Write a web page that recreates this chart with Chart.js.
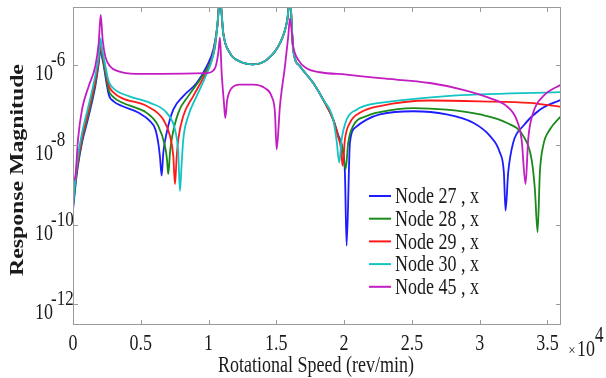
<!DOCTYPE html>
<html>
<head>
<meta charset="utf-8">
<script src="https://cdn.jsdelivr.net/npm/chart.js@4.4.1/dist/chart.umd.min.js"></script>
<style>
  html, body { margin: 0; padding: 0; background: #fff; }
  canvas { display: block; }
</style>
</head>
<body>
<canvas id="myChart" width="606" height="378"></canvas>
<script>
// rotational speed (rev/min) and log10 of response magnitude
const node27Speed = [0, 295, 664, 1158, 1645, 1895, 2030, 2120, 2235, 2633, 3000, 3614, 4845, 5679, 6070, 6291, 6416, 6542, 6660, 6910, 7397, 8135, 9123, 9860, 10347, 10642, 10841, 11085, 11579, 12316, 13297, 14285, 15266, 15805, 16004, 16247, 16741, 17722, 18459, 19197, 19566, 19890, 20060, 20185, 20429, 20798, 21660, 22641, 25097, 27560, 29522, 30754, 31491, 31786, 31911, 32104, 32472, 33210, 34441, 36000];
const node27Mag = [-9.62, -8.69, -7.94, -7.27, -6.52, -5.95, -5.55, -5.75, -5.94, -6.73, -6.9, -7.02, -7.19, -7.4, -7.6, -7.95, -8.3, -8.77, -8.2, -7.69, -7.11, -6.77, -6.44, -6.02, -5.61, -5.03, -4.3, -5.19, -5.69, -5.9, -5.97, -5.86, -5.44, -4.86, -4.3, -5.61, -6.02, -6.44, -6.86, -7.36, -7.75, -8.1, -8.7, -10.53, -7.94, -7.57, -7.36, -7.23, -7.15, -7.23, -7.44, -7.77, -8.19, -8.69, -9.65, -8.69, -7.94, -7.52, -7.11, -6.86];

const node28Speed = [0, 295, 664, 1158, 1645, 1895, 2030, 2120, 2235, 2633, 3000, 3614, 4845, 5435, 6291, 6785, 6930, 7028, 7154, 7279, 7766, 8503, 9366, 10104, 10473, 10642, 10841, 11085, 11579, 12316, 13297, 14285, 15266, 15805, 16004, 16247, 16741, 17722, 18459, 19197, 19566, 19890, 20112, 20303, 20672, 21660, 22641, 25097, 27560, 30016, 31985, 33210, 33829, 34073, 34272, 34441, 34685, 35179, 36000];
const node28Mag = [-9.52, -8.62, -7.88, -7.2, -6.45, -5.9, -5.45, -5.68, -5.88, -6.62, -6.8, -6.93, -7.09, -7.19, -7.52, -8.02, -8.35, -8.73, -8.2, -7.86, -7.19, -6.77, -6.36, -5.94, -5.55, -5.03, -4.3, -5.19, -5.69, -5.9, -5.97, -5.86, -5.44, -4.86, -4.3, -5.61, -6.02, -6.44, -6.86, -7.36, -7.78, -8.1, -8.61, -7.94, -7.52, -7.27, -7.17, -7.07, -7.11, -7.23, -7.44, -7.77, -8.36, -9.11, -10.19, -8.69, -8.02, -7.61, -7.27];

const node29Speed = [0, 295, 664, 1158, 1645, 1895, 2030, 2120, 2235, 2633, 3000, 3614, 5435, 6660, 7154, 7397, 7523, 7648, 7766, 8135, 8872, 9610, 10229, 10642, 10841, 11085, 11579, 12316, 13297, 14285, 15266, 15805, 16004, 16247, 16741, 17722, 18459, 19197, 19566, 19750, 19890, 20060, 20429, 21166, 22641, 26329, 30016, 33704, 36000];
const node29Mag = [-9.43, -8.55, -7.82, -7.12, -6.38, -5.85, -5.4, -5.6, -5.8, -6.5, -6.68, -6.82, -7.02, -7.36, -7.77, -8.27, -8.98, -8.3, -7.86, -7.27, -6.77, -6.31, -5.86, -5.03, -4.3, -5.19, -5.69, -5.9, -5.97, -5.86, -5.44, -4.86, -4.3, -5.61, -6.02, -6.44, -6.86, -7.36, -7.8, -8.05, -8.52, -7.86, -7.44, -7.19, -7.02, -6.88, -6.9, -6.94, -7.04];

const node30Speed = [0, 295, 664, 1158, 1645, 1895, 2030, 2120, 2235, 2633, 3000, 4108, 5679, 6910, 7523, 7766, 7891, 8010, 8135, 8503, 9123, 9735, 10347, 10642, 10841, 11085, 11579, 12316, 13297, 14285, 15266, 15805, 16004, 16247, 16741, 17722, 18459, 19197, 19450, 19640, 19817, 20185, 20923, 21904, 22641, 27560, 36000];
const node30Mag = [-9.5, -8.45, -7.7, -7.0, -6.25, -5.75, -5.32, -5.55, -5.75, -6.4, -6.58, -6.77, -6.94, -7.19, -7.61, -8.19, -9.15, -8.5, -7.86, -7.27, -6.77, -6.31, -5.73, -5.03, -4.3, -5.19, -5.69, -5.9, -5.97, -5.86, -5.44, -4.86, -4.3, -5.61, -6.02, -6.44, -6.86, -7.36, -7.9, -8.44, -7.86, -7.36, -7.11, -6.98, -6.94, -6.77, -6.67];

const node45Speed = [0, 170, 369, 664, 1158, 1645, 1895, 2043, 2190, 2382, 2729, 3370, 4595, 6500, 9860, 10473, 10716, 10841, 10967, 11136, 11232, 11380, 11704, 12316, 13297, 14160, 14654, 14898, 15023, 15266, 15635, 15879, 16004, 16247, 16616, 17235, 18216, 20185, 22641, 26329, 28785, 30754, 31985, 32723, 33092, 33387, 33579, 33947, 34685, 36000];
const node45Mag = [-8.9, -8.8, -7.86, -7.11, -6.52, -6.02, -5.44, -4.73, -5.36, -5.77, -6.02, -6.15, -6.21, -6.21, -6.19, -6.07, -5.69, -5.3, -6.19, -6.94, -7.32, -6.86, -6.57, -6.48, -6.48, -6.57, -6.78, -7.18, -8.11, -7.02, -6.02, -5.27, -4.82, -5.52, -5.86, -6.07, -6.17, -6.23, -6.32, -6.44, -6.61, -6.82, -7.02, -7.36, -7.86, -8.98, -7.86, -7.19, -6.77, -6.48];

const seriesNames = ["Node 27 , x", "Node 28 , x", "Node 29 , x", "Node 30 , x", "Node 45 , x"];
const seriesColors = ["#1c1cff", "#1a8a1a", "#ff1a1a", "#14c4c4", "#c21cc2"];

const xTicks = [0, 5000, 10000, 15000, 20000, 25000, 30000, 35000];
const xTickLabels = ["0", "0.5", "1", "1.5", "2", "2.5", "3", "3.5"];
const yTickExp = [-6, -8, -10, -12];

const xMin = 0, xMax = 36000;
const yMinExp = -12.48, yMaxExp = -4.53;

const speeds = [node27Speed, node28Speed, node29Speed, node30Speed, node45Speed];
const mags = [node27Mag, node28Mag, node29Mag, node30Mag, node45Mag];

const serif = '"Liberation Serif", "Times New Roman", serif';

// text with a vertical stretch, the picture is a bit taller than normal type
function txt(ctx, s, x, y, size, align, sy) {
  ctx.save();
  ctx.translate(x, y);
  ctx.scale(1, sy);
  ctx.font = size + "px " + serif;
  ctx.textAlign = align;
  ctx.textBaseline = "alphabetic";
  ctx.fillStyle = "#1a1a1a";
  ctx.fillText(s, 0, 0);
  ctx.restore();
}

const matlabAxes = {
  id: "matlabAxes",
  beforeDraw(chart) {
    const ctx = chart.ctx;
    ctx.save();
    ctx.fillStyle = "#fff";
    ctx.fillRect(0, 0, chart.width, chart.height);
    ctx.restore();
  },
  afterDraw(chart) {
    const ctx = chart.ctx;
    const a = chart.chartArea;
    const xs = chart.scales.x;
    const ys = chart.scales.y;

    // box + inward ticks
    ctx.save();
    ctx.strokeStyle = "#9a9a9a";
    ctx.lineWidth = 1;
    ctx.strokeRect(a.left + 0.5, a.top + 0.5, a.right - a.left - 1, a.bottom - a.top - 1);
    ctx.beginPath();
    xTicks.forEach(function (v) {
      const px = Math.round(xs.getPixelForValue(v)) + 0.5;
      ctx.moveTo(px, a.bottom);
      ctx.lineTo(px, a.bottom - 5);
      ctx.moveTo(px, a.top);
      ctx.lineTo(px, a.top + 5);
    });
    yTickExp.forEach(function (e) {
      const py = Math.round(ys.getPixelForValue(Math.pow(10, e))) + 0.5;
      ctx.moveTo(a.left, py);
      ctx.lineTo(a.left + 5, py);
      ctx.moveTo(a.right, py);
      ctx.lineTo(a.right - 5, py);
    });
    ctx.stroke();
    ctx.restore();

    // x tick labels
    xTicks.forEach(function (v, i) {
      txt(ctx, xTickLabels[i], xs.getPixelForValue(v), 350, 18, "center", 1.3);
    });
    txt(ctx, "\u00d7", 572, 355, 13, "center", 1.2);
    txt(ctx, "10", 577, 356, 18, "left", 1.3);
    txt(ctx, "4", 595, 342, 17, "left", 1.3);

    // y tick labels 10^n
    yTickExp.forEach(function (e) {
      const py = ys.getPixelForValue(Math.pow(10, e));
      txt(ctx, "10", 53, py + 15, 18, "right", 1.25);
      txt(ctx, String(e), 51, py + 1, 17, "left", 1.25);
    });

    // axis titles
    txt(ctx, "Rotational Speed (rev/min)", 316, 372, 18, "center", 1.3);
    ctx.save();
    ctx.translate(23, 170);
    ctx.rotate(-Math.PI / 2);
    ctx.scale(1.25, 1);
    ctx.font = "bold 19px " + serif;
    ctx.textAlign = "center";
    ctx.textBaseline = "alphabetic";
    ctx.fillStyle = "#1a1a1a";
    ctx.fillText("Response Magnitude", 0, 0);
    ctx.restore();

    // legend inside the axes
    seriesNames.forEach(function (name, i) {
      const ly = 196 + i * 22.7;
      ctx.save();
      ctx.strokeStyle = seriesColors[i];
      ctx.lineWidth = 2;
      ctx.beginPath();
      ctx.moveTo(369, ly);
      ctx.lineTo(391, ly);
      ctx.stroke();
      ctx.restore();
      txt(ctx, name, 395, ly + 7.3, 18, "left", 1.26);
    });
  }
};

const datasets = seriesNames.map(function (name, i) {
  return {
    label: name,
    data: speeds[i].map(function (s, j) {
      return { x: s, y: Math.pow(10, mags[i][j]) };
    }),
    borderColor: seriesColors[i],
    backgroundColor: seriesColors[i],
    borderWidth: 1.8,
    pointRadius: 0,
    fill: false,
    cubicInterpolationMode: "monotone",
    order: seriesNames.length - i
  };
});

const config = {
  type: "line",
  data: { datasets: datasets },
  options: {
    responsive: false,
    animation: false,
    devicePixelRatio: 1,
    layout: { padding: { left: 73, right: 45, top: 7, bottom: 53 } },
    plugins: { legend: { display: false }, tooltip: { enabled: false } },
    scales: {
      x: { type: "linear", min: xMin, max: xMax, display: false },
      y: { type: "logarithmic", min: Math.pow(10, yMinExp), max: Math.pow(10, yMaxExp), display: false }
    }
  },
  plugins: [matlabAxes]
};

const myChart = new Chart(document.getElementById("myChart"), config);
</script>
</body>
</html>
